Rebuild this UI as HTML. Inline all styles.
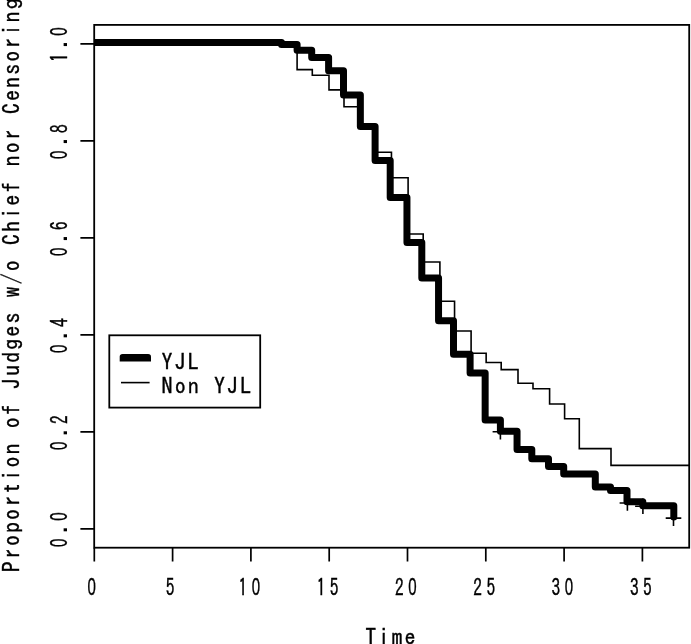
<!DOCTYPE html>
<html lang="en">
<head>
<meta charset="utf-8">
<title>Proportion of Judges w/o Chief nor Censoring</title>
<style>
html,body{margin:0;padding:0;background:#fff;}
body{width:691px;height:644px;overflow:hidden;}
svg{display:block;}
text{fill:#000;stroke:#000;white-space:pre;}
.lb{font-family:IPAGothic,"Liberation Mono",monospace;font-size:22.00px;letter-spacing:2.100px;stroke-width:.35px;}
.tk{font-family:"Liberation Sans",sans-serif;font-size:22.80px;letter-spacing:0px;stroke-width:.35px;}
.dt{font-family:"Liberation Sans",sans-serif;font-size:32px;stroke:none;}
.tg{font-family:IPAGothic,"Liberation Sans",sans-serif;font-size:22.2px;stroke-width:.4px;}
</style>
</head>
<body>
<svg width="691" height="644" viewBox="0 0 691 644">
<rect x="0" y="0" width="691" height="644" fill="#fff"/>
<defs><clipPath id="pc"><rect x="94.2" y="24.9" width="595.0" height="522.8"/></clipPath></defs>

<g clip-path="url(#pc)" fill="none" stroke="#000">
<path d="M94.3 43.8 H297.10 V69.65 H312.30 V75.20 H329.00 V89.85 H344.00 V106.80 H360.50 V126.50 H376.00 V152.20 H391.45 V177.75 H408.10 V233.95 H423.20 V262.00 H439.90 V301.20 H454.55 V331.00 H471.10 V353.20 H486.15 V362.50 H501.20 V369.60 H518.00 V383.30 H533.00 V388.70 H549.60 V404.00 H564.60 V418.70 H579.30 V448.60 H611.00 V465.40 H700.0" stroke-width="1.6" stroke-linejoin="miter"/>
<path d="M94.3 42.6 H281.50 V44.60 H297.10 V50.30 H311.70 V57.50 H328.60 V70.70 H343.50 V95.00 H360.35 V126.60 H375.10 V160.40 H390.20 V197.55 H406.95 V242.60 H421.80 V277.90 H438.55 V320.80 H453.50 V354.20 H470.10 V373.00 H485.15 V419.90 H500.40 V431.30 H517.05 V449.50 H531.80 V458.70 H548.50 V466.40 H563.70 V474.10 H595.30 V486.90 H610.50 V490.60 H627.00 V501.80 H642.80 V505.70 H673.80 V517.00" stroke-width="7" stroke-linejoin="round" stroke-linecap="round"/>
<path d="M492.6 431.8 h15.6 M500.4 424.0 v15.6 M619.6 503.0 h15.6 M627.4 495.2 v15.6 M635.1 506.2 h15.6 M642.9 498.4 v15.6 M665.7 518.1 h15.6 M673.5 510.3 v15.6" stroke-width="1.6"/>
</g>
<rect x="94.2" y="24.9" width="595.0" height="522.8" fill="none" stroke="#000" stroke-width="1.8"/>
<path d="M94.3 547.7 v13.8 M172.6 547.7 v13.8 M250.9 547.7 v13.8 M329.2 547.7 v13.8 M407.5 547.7 v13.8 M485.8 547.7 v13.8 M564.1 547.7 v13.8 M642.4 547.7 v13.8 M94.2 528.8 h-13.8 M94.2 431.8 h-13.8 M94.2 334.8 h-13.8 M94.2 237.8 h-13.8 M94.2 140.8 h-13.8 M94.2 43.8 h-13.8" fill="none" stroke="#000" stroke-width="1.7"/>
<g><text class="tk" transform="translate(87.62 595.00) scale(0.660 1.04)">0</text></g>
<g><text class="tg" transform="translate(165.77 596.13) scale(0.780 1.04)">5</text></g>
<g><text class="tg" transform="translate(238.42 596.13) scale(0.780 1.04)">1</text><text class="tk" transform="translate(251.67 595.00) scale(0.660 1.04)">0</text></g>
<g><text class="tg" transform="translate(316.72 596.13) scale(0.780 1.04)">1</text><text class="tg" transform="translate(329.82 596.13) scale(0.780 1.04)">5</text></g>
<g><text class="tg" transform="translate(395.02 596.13) scale(0.780 1.04)">2</text><text class="tk" transform="translate(408.27 595.00) scale(0.660 1.04)">0</text></g>
<g><text class="tg" transform="translate(473.32 596.13) scale(0.780 1.04)">2</text><text class="tg" transform="translate(486.42 596.13) scale(0.780 1.04)">5</text></g>
<g><text class="tg" transform="translate(551.62 596.13) scale(0.780 1.04)">3</text><text class="tk" transform="translate(564.87 595.00) scale(0.660 1.04)">0</text></g>
<g><text class="tg" transform="translate(629.92 596.13) scale(0.780 1.04)">3</text><text class="tg" transform="translate(643.02 596.13) scale(0.780 1.04)">5</text></g>
<g><text class="tk" transform="translate(67.10 546.98) rotate(-90) scale(0.660 1.030)">0</text><text class="dt" transform="translate(67.10 534.15) rotate(-90) scale(1.000 1.000)">.</text><text class="tk" transform="translate(67.10 520.78) rotate(-90) scale(0.660 1.030)">0</text></g>
<g><text class="tk" transform="translate(67.10 449.97) rotate(-90) scale(0.660 1.030)">0</text><text class="dt" transform="translate(67.10 437.14) rotate(-90) scale(1.000 1.000)">.</text><text class="tg" transform="translate(68.26 423.92) rotate(-90) scale(0.780 1.030)">2</text></g>
<g><text class="tk" transform="translate(67.10 352.96) rotate(-90) scale(0.660 1.030)">0</text><text class="dt" transform="translate(67.10 340.13) rotate(-90) scale(1.000 1.000)">.</text><text class="tg" transform="translate(68.26 326.91) rotate(-90) scale(0.780 1.030)">4</text></g>
<g><text class="tk" transform="translate(67.10 255.95) rotate(-90) scale(0.660 1.030)">0</text><text class="dt" transform="translate(67.10 243.12) rotate(-90) scale(1.000 1.000)">.</text><text class="tg" transform="translate(68.26 229.90) rotate(-90) scale(0.780 1.030)">6</text></g>
<g><text class="tk" transform="translate(67.10 158.94) rotate(-90) scale(0.660 1.030)">0</text><text class="dt" transform="translate(67.10 146.11) rotate(-90) scale(1.000 1.000)">.</text><text class="tg" transform="translate(68.26 132.89) rotate(-90) scale(0.780 1.030)">8</text></g>
<g><text class="tg" transform="translate(68.26 62.08) rotate(-90) scale(0.780 1.030)">1</text><text class="dt" transform="translate(67.10 49.10) rotate(-90) scale(1.000 1.000)">.</text><text class="tk" transform="translate(67.10 35.73) rotate(-90) scale(0.660 1.030)">0</text></g>
<text class="lb" x="365.2" y="644.8">Time</text>
<text class="lb" transform="translate(19.9 572.3) rotate(-90) scale(1 1.07)">Proportion of Judges w/o Chief nor Censoring</text>
<rect x="109.3" y="335.3" width="150.9" height="72.3" fill="#fff" stroke="#000" stroke-width="1.8"/>
<path d="M119.7 361.6 V356.6 Q119.7 354 122.6 354 H148.1 Q151 354 151 356.6 V361.6 Z" fill="#000"/>
<path d="M121 382.6 H149.6" fill="none" stroke="#000" stroke-width="1.6"/>
<text class="lb" x="161.6" y="370.2">YJL</text>
<text class="lb" x="161.6" y="394.0">Non YJL</text>
</svg>
</body>
</html>
